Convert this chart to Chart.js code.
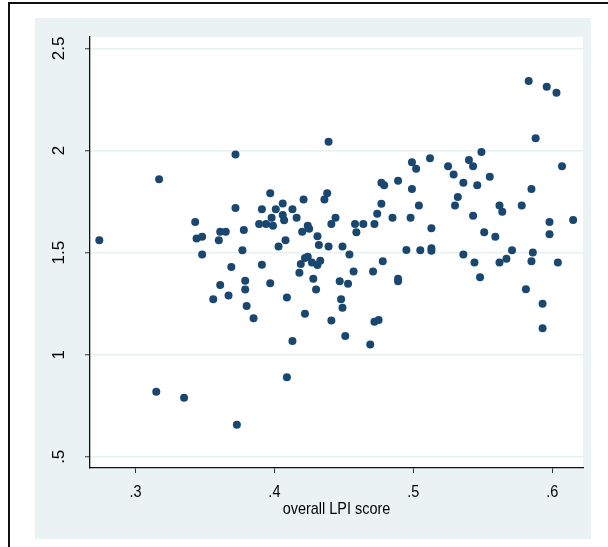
<!DOCTYPE html>
<html>
<head>
<meta charset="utf-8">
<script src="https://cdn.jsdelivr.net/npm/chart.js@4/dist/chart.umd.min.js"></script>
<style>
  html, body { margin: 0; padding: 0; background: #fff; }
  canvas { display: block; }
</style>
</head>
<body>
<canvas id="c" width="608" height="547"></canvas>
<script>
// Overall LPI score (x) against the outcome measure (y), one entry per country
const lpiScore = [
  0.274, 0.317, 0.315, 0.335, 0.373, 0.372, 0.372, 0.343, 0.344, 0.348,
  0.348, 0.360, 0.361, 0.365, 0.361, 0.356, 0.369, 0.367, 0.377, 0.378,
  0.379, 0.379, 0.380, 0.385, 0.389, 0.391, 0.391, 0.394, 0.397, 0.398,
  0.399, 0.397, 0.401, 0.403, 0.406, 0.406, 0.407, 0.408, 0.409, 0.409,
  0.413, 0.413, 0.416, 0.420, 0.421, 0.422, 0.424, 0.425, 0.419, 0.418,
  0.422, 0.424, 0.427, 0.428, 0.430, 0.431, 0.432, 0.431, 0.433, 0.436,
  0.438, 0.439, 0.439, 0.441, 0.444, 0.441, 0.447, 0.448, 0.449, 0.449,
  0.451, 0.453, 0.454, 0.457, 0.458, 0.459, 0.464, 0.469, 0.471, 0.472,
  0.472, 0.475, 0.474, 0.477, 0.479, 0.477, 0.478, 0.485, 0.489, 0.489,
  0.489, 0.495, 0.498, 0.499, 0.499, 0.502, 0.504, 0.505, 0.512, 0.513,
  0.513, 0.513, 0.525, 0.529, 0.532, 0.530, 0.536, 0.536, 0.540, 0.543,
  0.546, 0.543, 0.544, 0.548, 0.549, 0.551, 0.555, 0.559, 0.562, 0.564,
  0.562, 0.567, 0.571, 0.578, 0.581, 0.583, 0.585, 0.586, 0.585, 0.588,
  0.593, 0.593, 0.596, 0.598, 0.598, 0.603, 0.604, 0.607, 0.615
];
const outcome = [
  1.561, 1.859, 0.818, 0.789, 0.657, 1.981, 1.719, 1.650, 1.569, 1.578,
  1.491, 1.561, 1.602, 1.602, 1.341, 1.271, 1.429, 1.290, 1.511, 1.611,
  1.362, 1.319, 1.238, 1.178, 1.640, 1.712, 1.441, 1.640, 1.791, 1.671,
  1.631, 1.350, 1.712, 1.530, 1.741, 1.684, 1.659, 1.561, 1.280, 0.890,
  1.067, 1.712, 1.671, 1.602, 1.760, 1.201, 1.631, 1.617, 1.444, 1.401,
  1.473, 1.480, 1.451, 1.372, 1.319, 1.580, 1.537, 1.439, 1.460, 1.760,
  1.791, 2.043, 1.530, 1.640, 1.671, 1.168, 1.360, 1.271, 1.230, 1.530,
  1.091, 1.348, 1.491, 1.408, 1.640, 1.600, 1.640, 1.050, 1.408, 1.640,
  1.161, 1.170, 1.690, 1.842, 1.830, 1.739, 1.458, 1.671, 1.852, 1.360,
  1.372, 1.513, 1.671, 1.942, 1.811, 1.911, 1.731, 1.511, 1.962, 1.619,
  1.521, 1.509, 1.923, 1.882, 1.772, 1.731, 1.842, 1.491, 1.954, 1.923,
  1.830, 1.681, 1.451, 1.379, 1.993, 1.600, 1.871, 1.578, 1.731, 1.700,
  1.451, 1.470, 1.511, 1.731, 1.321, 2.341, 1.811, 1.501, 1.458, 2.060,
  1.250, 1.130, 2.312, 1.650, 1.590, 2.283, 1.451, 1.923, 1.660
];

// Axis ticks and their printed labels
const xTickValues = [0.3, 0.4, 0.5, 0.6];
const xTickLabels = ['.3', '.4', '.5', '.6'];
const yTickValues = [0.5, 1, 1.5, 2, 2.5];
const yTickLabels = ['.5', '1', '1.5', '2', '2.5'];
const xTitle = 'overall LPI score';

const points = lpiScore.map((x, i) => ({ x: x, y: outcome[i] }));
const FONT = '"Liberation Sans", Arial, sans-serif';

// Page frame, tinted graph region and white plot region
const backdrop = {
  id: 'backdrop',
  beforeDraw(chart) {
    const ctx = chart.ctx;
    const a = chart.chartArea;
    ctx.save();
    ctx.fillStyle = '#ffffff';
    ctx.fillRect(0, 0, chart.width, chart.height);
    ctx.strokeStyle = '#111111';
    ctx.lineWidth = 2;
    ctx.beginPath();
    ctx.moveTo(9, chart.height);
    ctx.lineTo(9, 3);
    ctx.lineTo(chart.width, 3);
    ctx.stroke();
    ctx.fillStyle = '#eaf2f3';
    ctx.fillRect(35, 18, 556, 521);
    ctx.fillStyle = '#ffffff';
    ctx.fillRect(a.left, a.top, a.right - a.left, a.bottom - a.top);
    ctx.restore();
  }
};

// Condensed x-axis tick labels and title, placed from the x scale
const xAxisText = {
  id: 'xAxisText',
  afterDraw(chart) {
    const ctx = chart.ctx;
    const sx = chart.scales.x;
    const a = chart.chartArea;
    const squeeze = 0.85;
    const put = (text, x, y) => {
      ctx.save();
      ctx.translate(x, y);
      ctx.scale(squeeze, 1);
      ctx.fillText(text, 0, 0);
      ctx.restore();
    };
    ctx.save();
    ctx.fillStyle = '#000000';
    ctx.font = '17px ' + FONT;
    ctx.textAlign = 'center';
    ctx.textBaseline = 'alphabetic';
    xTickValues.forEach((v, i) => put(xTickLabels[i], sx.getPixelForValue(v), a.bottom + 29));
    put(xTitle, (a.left + a.right) / 2, a.bottom + 46);
    ctx.restore();
  }
};

new Chart(document.getElementById('c'), {
  type: 'scatter',
  data: {
    datasets: [{
      data: points,
      pointRadius: 4,
      pointHoverRadius: 4,
      pointBackgroundColor: '#1a476f',
      pointBorderWidth: 0,
      borderWidth: 0
    }]
  },
  options: {
    responsive: false,
    animation: false,
    events: [],
    layout: { padding: { left: 0, top: 37, right: 25, bottom: 0 } },
    plugins: { legend: { display: false }, tooltip: { enabled: false } },
    scales: {
      x: {
        type: 'linear',
        min: 0.2673,
        max: 0.6221,
        afterFit(s) { s.height = 79; },
        afterBuildTicks(s) { s.ticks = xTickValues.map(v => ({ value: v })); },
        grid: {
          drawOnChartArea: false,
          drawTicks: true,
          tickLength: 5,
          tickColor: '#333333',
          tickWidth: 1
        },
        border: { display: true, color: '#111111', width: 1.3 },
        ticks: { display: false, autoSkip: false }
      },
      y: {
        type: 'linear',
        min: 0.445,
        max: 2.556,
        afterFit(s) { s.width = 90; },
        afterBuildTicks(s) { s.ticks = yTickValues.map(v => ({ value: v })); },
        grid: {
          drawOnChartArea: true,
          color: '#e8f0f2',
          lineWidth: 1.5,
          drawTicks: true,
          tickLength: 5,
          tickColor: '#333333',
          tickWidth: 1
        },
        border: { display: true, color: '#111111', width: 1.3 },
        ticks: {
          autoSkip: false,
          minRotation: 90,
          maxRotation: 90,
          crossAlign: 'center',
          padding: 14,
          color: '#000000',
          font: { family: FONT, size: 17 },
          callback(value) {
            const i = yTickValues.findIndex(v => Math.abs(v - value) < 1e-9);
            return i >= 0 ? yTickLabels[i] : '';
          }
        }
      }
    }
  },
  plugins: [backdrop, xAxisText]
});
</script>
</body>
</html>
